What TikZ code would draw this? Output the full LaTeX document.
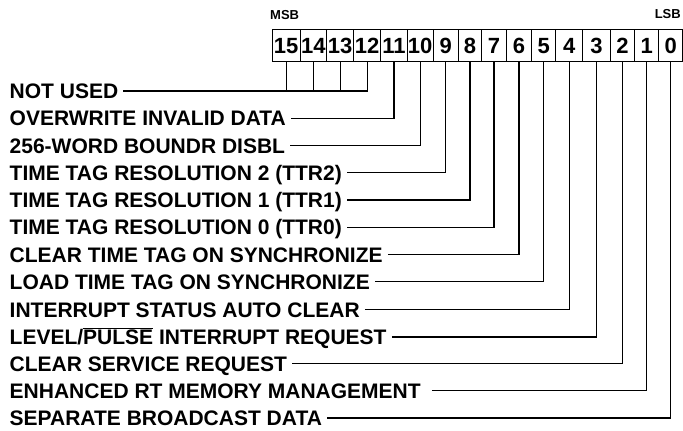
\documentclass[tikz,border=0pt]{standalone}
\usepackage{fontspec}
\setmainfont{Liberation Sans}
\begin{document}
\begin{tikzpicture}[x=1pt,y=-1pt,
  lbl/.style={anchor=west, inner sep=0pt, font=\bfseries\fontsize{21}{21}\selectfont, text height=15pt, text depth=0pt},
  cell/.style={draw, line width=1.4pt, inner sep=0pt, anchor=north west, minimum height=32pt,
    font=\bfseries\fontsize{22}{22}\selectfont, text height=15.8pt, text depth=0pt},
  tag/.style={inner sep=0pt, font=\bfseries\fontsize{13}{13}\selectfont, text height=9.3pt, text depth=0pt},
  conn/.style={line width=1.3pt}]
\useasboundingbox (0,0) rectangle (683,431);

% register cells
\foreach \b/\l/\r in {15/271.5/299.5, 14/299.5/326, 13/326/353, 12/353/380,
  11/380/406.5, 10/406.5/432.5, 9/432.5/457.5, 8/457.5/481, 7/481/505.5,
  6/505.5/531, 5/531/555, 4/555/582, 3/582/609.5, 2/609.5/634, 1/634/658, 0/658/682}
  \node[cell, minimum width={\r-\l}] (c\b) at (\l,29) {\b};

\node[tag, anchor=west] (msb) at (270,14.5) {MSB};
\node[tag, anchor=east] (lsb) at (681,13.5) {LSB};

% labels
\node[lbl] (l0)  at (9.5,91)     {NOT USED};
\node[lbl] (l1)  at (9.5,118.25) {OVERWRITE INVALID DATA};
\node[lbl] (l2)  at (9.5,145.5)  {256-WORD BOUNDR DISBL};
\node[lbl] (l3)  at (9.5,172.75) {TIME TAG RESOLUTION 2 (TTR2)};
\node[lbl] (l4)  at (9.5,200)    {TIME TAG RESOLUTION 1 (TTR1)};
\node[lbl] (l5)  at (9.5,227.25) {TIME TAG RESOLUTION 0 (TTR0)};
\node[lbl] (l6)  at (9.5,254.5)  {CLEAR TIME TAG ON SYNCHRONIZE};
\node[lbl] (l7)  at (9.5,281.75) {LOAD TIME TAG ON SYNCHRONIZE};
\node[lbl] (l8)  at (9.5,309.5)  {INTERRUPT STATUS AUTO CLEAR};
\node[lbl] (l9)  at (9.5,337)    {LEVEL/$\overline{\mbox{PULSE}}$ INTERRUPT REQUEST};
\node[lbl] (l10) at (9.5,363.5)  {CLEAR SERVICE REQUEST};
\node[lbl] (l11) at (9.5,390.5)  {ENHANCED RT MEMORY MANAGEMENT};
\node[lbl] (l12) at (9.5,418)    {SEPARATE BROADCAST DATA};

% connectors
\draw[conn] ([xshift=5pt]l0.east) -| (c12.south);
\foreach \b in {15,14,13}
  \draw[conn] (c\b.south) -- (c\b.south |- l0.east);
\foreach \i/\b in {1/11, 2/10, 3/9, 4/8, 5/7, 6/6, 7/5, 8/4, 9/3, 10/2, 12/0}
  \draw[conn] ([xshift=5pt]l\i.east) -| (c\b.south);
\draw[conn] ([xshift=11pt]l11.east) -| (c1.south);
\end{tikzpicture}
\end{document}
